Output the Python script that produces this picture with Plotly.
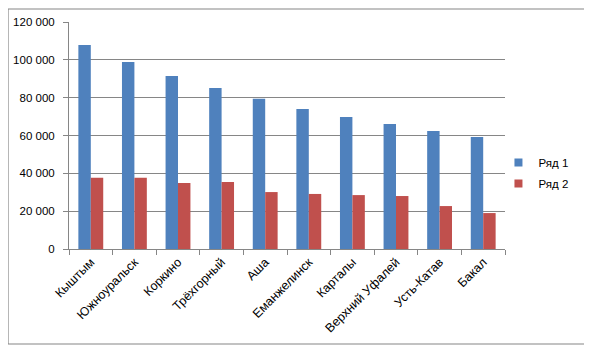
import plotly.graph_objects as go

categories = ["Кыштым", "Южноуральск", "Коркино", "Трёхгорный", "Аша",
              "Еманжелинск", "Карталы", "Верхний Уфалей", "Усть-Катав", "Бакал"]
series1 = [107800, 98900, 91500, 85100, 79400, 74000, 69800, 66100, 62400, 59200]
series2 = [37700, 37600, 34900, 35400, 30100, 29100, 28500, 28000, 22700, 19000]
series_names = ["Ряд 1", "Ряд 2"]
series_colors = ["#4F81BD", "#C0504D"]
tick_vals = [0, 20000, 40000, 60000, 80000, 100000, 120000]
tick_text = ["0", "20 000", "40 000", "60 000", "80 000", "100 000", "120 000"]

FONT = "Liberation Sans"
fig = go.Figure()
for name, vals, col in zip(series_names, [series1, series2], series_colors):
    fig.add_trace(go.Bar(x=categories, y=vals, name=name, legendgroup=name, showlegend=False,
                         marker=dict(color=col, line=dict(width=0))))
for name, col in zip(series_names, series_colors):
    # legend entry with a small square swatch
    fig.add_trace(go.Scatter(x=[None], y=[None], mode="markers", name=name, legendgroup=name,
                             marker=dict(symbol="square", size=8, color=col)))

fig.update_layout(
    width=584, height=347,
    margin=dict(l=61, r=87, t=14, b=106, autoexpand=False),
    paper_bgcolor="white", plot_bgcolor="white",
    barmode="group", bargap=0.43, bargroupgap=0,
    font=dict(family=FONT, size=11.5, color="#000000"),
    showlegend=True,
    legend=dict(x=0.985, y=0.335, xanchor="left", yanchor="middle",
                font=dict(size=11.5), itemwidth=30, tracegroupgap=2,
                bgcolor="rgba(0,0,0,0)"),
    shapes=[dict(type="rect", xref="paper", yref="paper",
                 x0=-0.1399, x1=1.1835, y0=-0.4185, y1=1.0573,
                 line=dict(color="#868686", width=1.2), layer="below")],
)
fig.update_xaxes(showgrid=False, showline=True, linecolor="#868686", linewidth=1,
                 ticks="outside", tickson="boundaries", ticklen=5, tickcolor="#868686",
                 tickangle=-45, tickfont=dict(size=12.5), automargin=False)
fig.update_yaxes(range=[0, 120000], tickvals=tick_vals, ticktext=tick_text,
                 showgrid=True, gridcolor="#868686", gridwidth=1,
                 showline=True, linecolor="#868686", linewidth=1,
                 ticks="outside", ticklen=5, tickcolor="#868686",
                 zeroline=False, tickfont=dict(size=11.5), ticklabelstandoff=6,
                 automargin=False)

fig.write_html("out.html")
